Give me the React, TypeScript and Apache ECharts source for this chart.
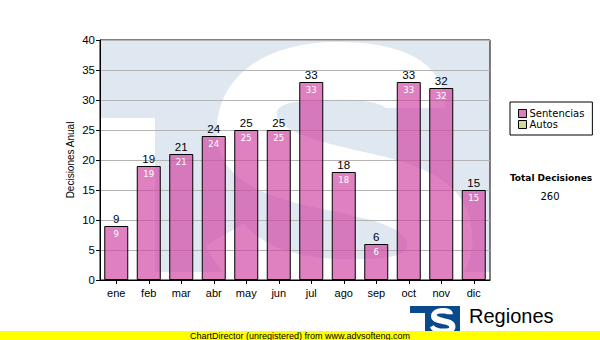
import React, { useEffect, useRef } from "react";
import * as echarts from "echarts";

const categories = ["ene", "feb", "mar", "abr", "may", "jun", "jul", "ago", "sep", "oct", "nov", "dic"];
const sentencias = [9, 19, 21, 24, 25, 25, 33, 18, 6, 33, 32, 15];
const autos: number[] = [];
const totalLabel = "Total Decisiones";
const totalValue = "260";
const yTitle = "Decisiones Anual";
const footer = "ChartDirector (unregistered) from www.advsofteng.com";
const logoText = "Regiones";

const S_PATH =
  "M88 24 C88 6 70 0 48 0 C20 0 4 14 4 32 C4 50 20 56 44 61 C64 65 74 68 74 74 C74 78 66 79 52 79 C34 79 20 74 14 66 L0 74 C8 92 28 100 52 100 C82 100 98 88 98 72 C98 52 82 45 58 40 C40 36 26 32 26 26 C26 22 34 21 48 21 C58 21 64 22 66 24 Z";

let registered = false;
function ensureShape() {
  if (registered) return;
  echarts.graphic.registerShape("wmS", echarts.graphic.extendPath(S_PATH, {}));
  registered = true;
}

export default function App() {
  const ref = useRef<HTMLDivElement>(null);
  useEffect(() => {
    if (!ref.current) return;
    ensureShape();
    const chart = echarts.init(ref.current, null, { renderer: "svg" });
    const font = "Liberation Sans";
    chart.setOption({
      animation: false,
      backgroundColor: "#ffffff",
      grid: {
        left: 100,
        top: 40,
        width: 390,
        height: 240,
        show: true,
        borderColor: "#000",
        borderWidth: 1,
        backgroundColor: "transparent",
      },
      legend: {
        orient: "vertical",
        left: 510,
        top: 102,
        padding: [6, 8, 5, 8],
        itemGap: 0,
        itemWidth: 8,
        itemHeight: 8,
        borderColor: "#000",
        borderWidth: 1,
        backgroundColor: "#fff",
        textStyle: { fontFamily: "DejaVu Sans", fontSize: 10, color: "#000", lineHeight: 11, padding: [0, 0, 0, -2] },
        data: [
          { name: "Sentencias", icon: "rect", itemStyle: { color: "#dd7cbd", borderColor: "#000", borderWidth: 1 } },
          { name: "Autos", icon: "rect", itemStyle: { color: "#ccdd99", borderColor: "#000", borderWidth: 1 } },
        ],
      },
      xAxis: {
        type: "category",
        data: categories,
        axisLine: { lineStyle: { color: "#000", width: 1 } },
        axisTick: { show: true, alignWithLabel: true, length: 4, lineStyle: { color: "#000" } },
        axisLabel: { color: "#000", fontFamily: font, fontSize: 11, margin: 7 },
        splitLine: { show: false },
      },
      yAxis: {
        type: "value",
        min: 0,
        max: 40,
        interval: 5,
        name: yTitle,
        nameLocation: "middle",
        nameGap: 25,
        nameMoveOverlap: false,
        nameTextStyle: { color: "#000", fontFamily: font, fontSize: 10 },
        axisLine: { show: true, lineStyle: { color: "#000", width: 1 } },
        axisTick: { show: true, length: 4, lineStyle: { color: "#000" } },
        axisLabel: { color: "#000", fontFamily: font, fontSize: 11.5, margin: 5 },
        splitLine: { show: true, lineStyle: { color: "#b4b4b4", width: 1 } },
      },
      series: [
        {
          name: "Sentencias",
          type: "bar",
          data: sentencias,
          barWidth: 24,
          barGap: "-100%",
          itemStyle: { color: "rgba(208,68,162,0.68)", borderColor: "#000", borderWidth: 1 },
          label: { show: true, position: "top", distance: 1, color: "#000", fontFamily: font, fontSize: 11.5 },
          z: 3,
        },
        {
          name: "SentenciasInner",
          type: "bar",
          data: sentencias,
          barWidth: 24,
          barGap: "-100%",
          silent: true,
          itemStyle: { color: "rgba(0,0,0,0)", borderWidth: 0 },
          label: { show: true, position: "insideTop", distance: 3, color: "#fff", fontFamily: "DejaVu Sans", fontSize: 8.5 },
          z: 4,
        },
        {
          name: "Autos",
          type: "line",
          data: autos,
          itemStyle: { color: "#ccdd99" },
        },
      ],
      graphic: [
        { type: "rect", z: -20, silent: true, shape: { x: 101, y: 41, width: 389, height: 231 }, style: { fill: "#dfe8f1" } },
        { type: "rect", z: -19, silent: true, shape: { x: 101, y: 118, width: 54, height: 154 }, style: { fill: "#ffffff" } },
        { type: "wmS", z: -19, silent: true, x: 206, y: 42, scaleX: 2.72, scaleY: 2.75, style: { fill: "#ffffff" } },
        { type: "rect", z: -18, silent: true, shape: { x: 101, y: 272, width: 389, height: 8 }, style: { fill: "#ffffff" } },
        { type: "text", x: 551, y: 178, style: { text: totalLabel, fill: "#000", font: 'bold 9px "DejaVu Sans"', textAlign: "center", textVerticalAlign: "middle" } },
        { type: "text", x: 550, y: 196, style: { text: totalValue, fill: "#000", font: '10px "DejaVu Sans"', textAlign: "center", textVerticalAlign: "middle" } },
        { type: "polygon", shape: { points: [[410, 306], [460, 306], [460, 331], [425, 331], [425, 313], [410, 313]] }, style: { fill: "#0a4a8c" } },
        { type: "wmS", x: 430, y: 308, scaleX: 0.26, scaleY: 0.26, style: { fill: "#ffffff" } },
        { type: "text", x: 469, y: 316, style: { text: logoText, fill: "#000", font: '20px "Liberation Sans"', textAlign: "left", textVerticalAlign: "middle" } },
        { type: "rect", shape: { x: 0, y: 331, width: 600, height: 9 }, style: { fill: "#ffff00" } },
        { type: "text", x: 300, y: 335.5, style: { text: footer, fill: "#000", font: '9px "Liberation Sans"', textAlign: "center", textVerticalAlign: "middle" } },
      ],
    });
    return () => chart.dispose();
  }, []);
  return <div ref={ref} style={{ position: "fixed", left: 0, top: 0, width: 600, height: 340 }} />;
}
